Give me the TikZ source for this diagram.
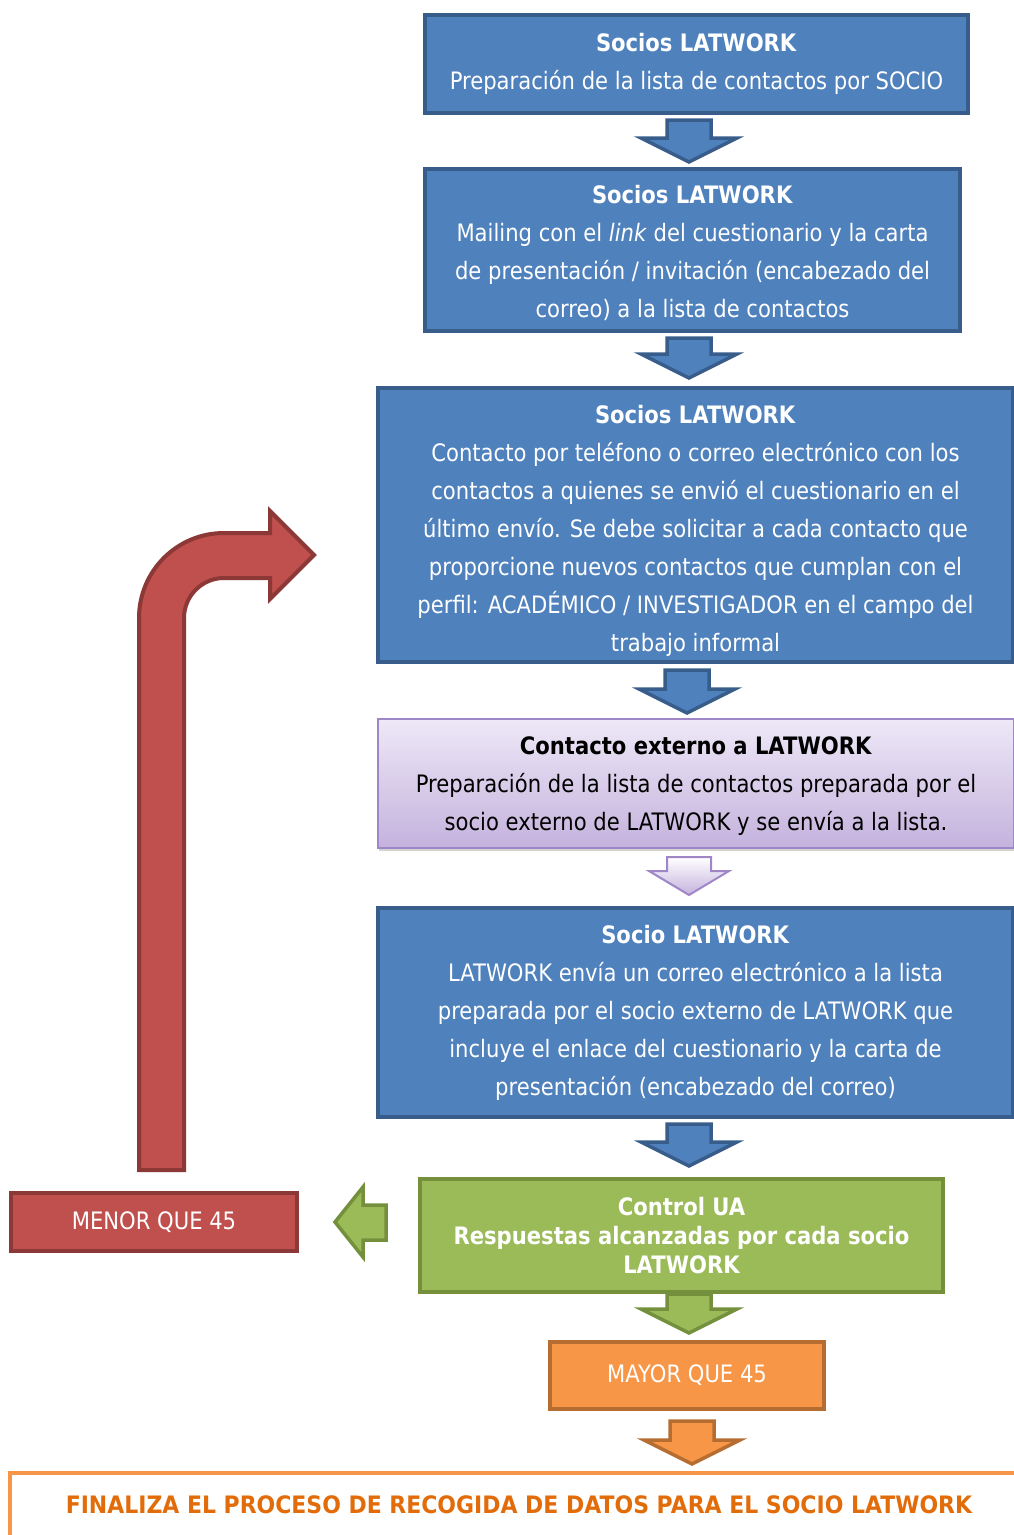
\documentclass[tikz,border=0pt]{standalone}
\usepackage{fontspec}
\setmainfont{DejaVu Sans}[FakeStretch=0.88]
\newfontfamily\widefont{DejaVu Sans}[FakeStretch=0.915]
\usetikzlibrary{shadows}
\definecolor{bfill}{HTML}{4F81BD}
\definecolor{bline}{HTML}{385D8A}
\definecolor{gfill}{HTML}{9BBB59}
\definecolor{gline}{HTML}{74903D}
\definecolor{rfill}{HTML}{C0504D}
\definecolor{rline}{HTML}{8C3836}
\definecolor{ofill}{HTML}{F79646}
\definecolor{oline}{HTML}{B66D31}
\definecolor{otext}{HTML}{E36C0A}
\definecolor{ptop}{HTML}{EEE8F7}
\definecolor{pbot}{HTML}{C4B2DD}
\definecolor{pline}{HTML}{9F86C6}
\newcommand\fsbig{\fontsize{24}{38}\selectfont}
\newcommand\fsgreen{\fontsize{24}{29}\selectfont}
\newcommand\dnarrow[5]{\draw[#5] (#1-22,#2) -- (#1+22,#2) -- (#1+22,#3-24) -- (#1+#4,#3-24) -- (#1,#3) -- (#1-#4,#3-24) -- (#1-22,#3-24) -- cycle;}
\begin{document}
\begin{tikzpicture}[x=1pt,y=-1pt,
  box/.style={draw, rectangle, line width=4pt, align=center, inner sep=0pt, anchor=north west, font=\fsbig},
  bluebox/.style={box, fill=bfill, draw=bline, text=white},
  greenbox/.style={box, fill=gfill, draw=gline, text=white, font=\fsgreen\bfseries},
  redbox/.style={box, fill=rfill, draw=rline, text=white},
  orangebox/.style={box, fill=ofill, draw=oline, text=white},
  purplebox/.style={box, line width=2pt, draw=pline, top color=ptop, bottom color=pbot, text=black,
    drop shadow={shadow xshift=1pt, shadow yshift=-3pt, opacity=0.35}},
  endbox/.style={box, fill=white, draw=ofill, text=otext, font=\fsbig\widefont\bfseries},
  bluearr/.style={fill=bfill, draw=bline, line width=3.5pt},
  greenarr/.style={fill=gfill, draw=gline, line width=3.5pt},
  orangearr/.style={fill=ofill, draw=oline, line width=3.5pt},
  purplearr/.style={top color=white, bottom color=pbot, draw=pline, line width=2pt},
  redarr/.style={fill=rfill, draw=rline, line width=4pt, line join=miter}
]
\useasboundingbox (0,0) rectangle (1014,1535);
\clip (0,0) rectangle (1014,1535);

\node[bluebox, minimum width=543pt, minimum height=98pt] (b1) at (423,13)
  {\textbf{Socios LATWORK}\\Preparación de la lista de contactos por SOCIO};
\node[bluebox, minimum width=535pt, minimum height=162pt] (b2) at (423,167)
  {\rule{0pt}{24pt}\textbf{Socios LATWORK}\\Mailing con el \textit{link} del cuestionario y la carta\\de presentación / invitación (encabezado del\\correo) a la lista de contactos};
\node[bluebox, minimum width=635pt, minimum height=274pt] (b3) at (376,386)
  {\rule{0pt}{30pt}\textbf{Socios LATWORK}\\Contacto por teléfono o correo electrónico con los\\contactos a quienes se envió el cuestionario en el\\último envío. Se debe solicitar a cada contacto que\\proporcione nuevos contactos que cumplan con el\\perfil: ACADÉMICO / INVESTIGADOR en el campo del\\trabajo informal};
\node[purplebox, minimum width=636pt, minimum height=129pt] (b4) at (377,718)
  {\rule{0pt}{22pt}\textbf{Contacto externo a LATWORK}\\Preparación de la lista de contactos preparada por el\\socio externo de LATWORK y se envía a la lista.};
\node[bluebox, minimum width=635pt, minimum height=209pt] (b5) at (376,906)
  {\textbf{Socio LATWORK}\\LATWORK envía un correo electrónico a la lista\\preparada por el socio externo de LATWORK que\\incluye el enlace del cuestionario y la carta de\\presentación (encabezado del correo)};
\node[greenbox, minimum width=523pt, minimum height=113pt] (b6) at (418,1177)
  {Control UA\\Respuestas alcanzadas por cada socio\\LATWORK};
\node[orangebox, minimum width=274pt, minimum height=67pt] (b7) at (548,1340) {MAYOR QUE 45};
\node[redbox, minimum width=286pt, minimum height=58pt] (r1) at (9,1191) {MENOR QUE 45};
\node[endbox, minimum width=1018pt, minimum height=64pt] (b8) at (8,1471)
  {FINALIZA EL PROCESO DE RECOGIDA DE DATOS PARA EL SOCIO LATWORK};

\dnarrow{689}{120}{162}{48}{bluearr}
\dnarrow{689}{338}{378}{48}{bluearr}
\dnarrow{687}{670}{713}{48}{bluearr}
\dnarrow{689}{857}{895}{40}{purplearr}
\dnarrow{689}{1124}{1166}{48}{bluearr}
\dnarrow{689}{1294}{1333}{48}{greenarr}
\dnarrow{692}{1421}{1464}{48}{orangearr}

% left green arrow towards MENOR QUE 45
\draw[greenarr] (386,1205) -- (386,1240) -- (363,1240) -- (363,1257) -- (335,1222) -- (363,1187) -- (363,1205) -- cycle;

% red bent return arrow
\draw[redarr] (139,1170) -- (139,618) .. controls (139,571) and (177,533) .. (224,533) -- (270,533) -- (270,511)
  -- (314,555) -- (270,599) -- (270,578) -- (224,578) .. controls (202,578) and (184,596) .. (184,618) -- (184,1170) -- cycle;
\end{tikzpicture}
\end{document}
